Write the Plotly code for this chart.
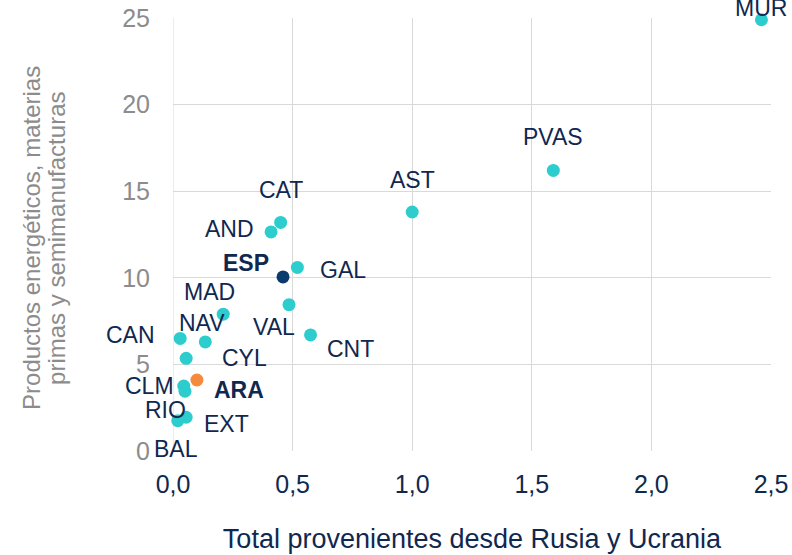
import plotly.graph_objects as go

regions = ["MUR", "PVAS", "AST", "CAT", "AND", "ESP", "GAL", "VAL", "MAD", "CNT",
           "NAV", "CAN", "CYL", "ARA", "CLM", "RIO", "EXT", "BAL"]
x_rus_ucr = [2.46, 1.59, 1.00, 0.45, 0.41, 0.46, 0.52, 0.485, 0.21, 0.575,
             0.135, 0.03, 0.055, 0.10, 0.045, 0.05, 0.055, 0.02]
y_energia = [24.9, 16.2, 13.8, 13.2, 12.65, 10.05, 10.6, 8.45, 7.9, 6.7,
             6.3, 6.5, 5.35, 4.1, 3.75, 3.45, 1.95, 1.75]
bold_labels = ["ESP", "ARA"]

x_ticks = [0, 0.5, 1.0, 1.5, 2.0, 2.5]
x_ticktext = ["0,0", "0,5", "1,0", "1,5", "2,0", "2,5"]
y_ticks = [0, 5, 10, 15, 20, 25]
x_title = "Total provenientes desde Rusia y Ucrania"
y_title_lines = ["Productos energéticos, materias", "primas y semimanufacturas"]

# label offsets in pixels (dx right, dy down) relative to the point
label_offsets = {
    "MUR": (0, -12), "PVAS": (0, -33), "AST": (0, -32), "CAT": (0, -32),
    "AND": (-42, -3), "ESP": (-37, -14), "GAL": (46, 3), "MAD": (-14, -22),
    "VAL": (-15, 22), "CNT": (40, 14), "NAV": (-3, -19), "CAN": (-50, -3),
    "CYL": (58, 0), "ARA": (42, 10), "CLM": (-34, 0), "RIO": (-19, 19),
    "EXT": (40, 7), "BAL": (-2, 28),
}

FONT = "Arial, 'Liberation Sans', sans-serif"
TEAL = "#2DCCCD"
NAVY = "#0B3B6E"
ORANGE = "#F58A3D"
TEXT = "#10284F"
GREY = "#8C8C8C"

colors = [NAVY if r == "ESP" else ORANGE if r == "ARA" else TEAL for r in regions]

fig = go.Figure()
fig.add_trace(go.Scatter(
    x=x_rus_ucr, y=y_energia, mode="markers",
    marker=dict(size=13, color=colors, line=dict(width=0)),
    cliponaxis=False, hoverinfo="text", text=regions,
))

for r, xv, yv in zip(regions, x_rus_ucr, y_energia):
    dx, dy = label_offsets[r]
    txt = f"<b>{r}</b>" if r in bold_labels else r
    fig.add_annotation(x=xv, y=yv, text=txt, showarrow=False,
                       xanchor="center", yanchor="middle",
                       xshift=dx, yshift=-dy,
                       font=dict(family=FONT, size=23, color=TEXT))

# y-axis title as two rotated lines (tighter line spacing than plotly's <br>)
for line, xp in zip(y_title_lines, [-0.2358, -0.194]):
    fig.add_annotation(xref="paper", yref="paper", x=xp, y=0.492, text=line,
                       textangle=-90, showarrow=False,
                       xanchor="center", yanchor="middle",
                       font=dict(family=FONT, size=24, color=GREY))

fig.update_layout(
    width=792, height=555,
    margin=dict(l=173, r=21, t=18, b=104, autoexpand=False),
    paper_bgcolor="white", plot_bgcolor="white",
    showlegend=False,
    font=dict(family=FONT),
)
fig.update_xaxes(
    range=[0, 2.5], tickvals=x_ticks, ticktext=x_ticktext,
    showgrid=True, gridcolor="#D9D9D9", gridwidth=1,
    zeroline=False, showline=False, automargin=False,
    tickfont=dict(family=FONT, size=25, color=TEXT), ticklabelstandoff=16,
    title=dict(text=x_title,
               font=dict(family=FONT, size=27, color=TEXT), standoff=32),
)
fig.update_yaxes(
    range=[0, 25], tickvals=y_ticks,
    showgrid=True, gridcolor="#D9D9D9", gridwidth=1,
    zeroline=False, showline=False, automargin=False,
    tickfont=dict(family=FONT, size=25, color=GREY), ticklabelstandoff=22,
)
fig.add_shape(type="line", xref="x", yref="paper", x0=0, x1=0, y0=0, y1=1,
              line=dict(color="#D9D9D9", width=1), layer="below")

fig.write_html("out.html", config={"displayModeBar": False},
               post_script="document.body.style.margin='0';document.body.style.overflow='hidden';")
